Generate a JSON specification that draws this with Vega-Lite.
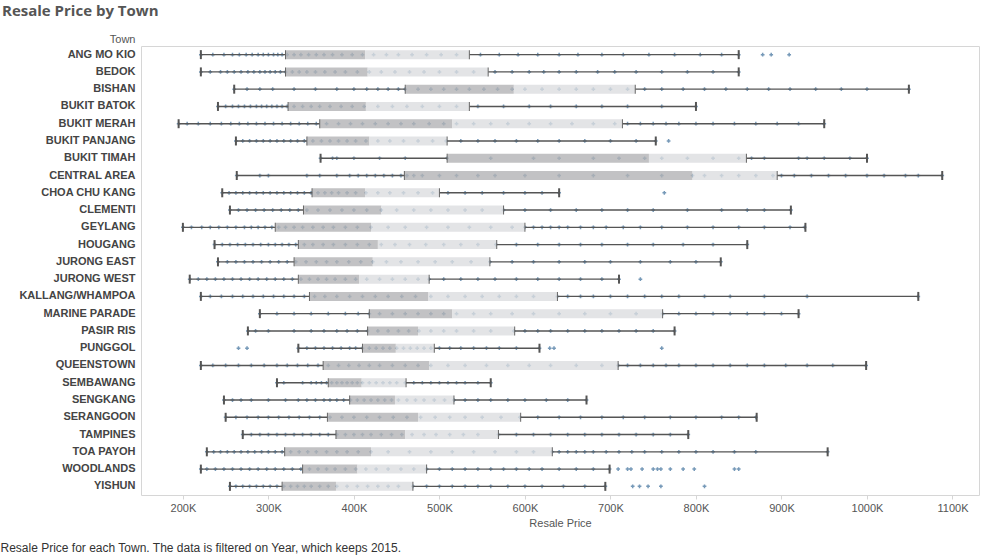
{
"$schema": "https://vega.github.io/schema/vega-lite/v6.json",
"width": 838, "height": 449,
"autosize": {"type": "none"},
"padding": {"left": 141, "top": 46, "right": 4, "bottom": 61},
"background": "white",
"config": {"view": {"stroke": "#d6d6d6"}},
"title": {"text": "Resale Price by Town", "anchor": "start", "frame": "group", "dx": -139, "dy": 0, "offset": 14, "font": "Open Sans", "fontSize": 15, "fontWeight": "bold", "color": "#555555"},
"datasets": {
"stats": [
{"town":"ANG MO KIO","low":221,"q1":320,"median":413,"q3":535,"high":850},
{"town":"BEDOK","low":221,"q1":320,"median":416,"q3":557,"high":850},
{"town":"BISHAN","low":260,"q1":460,"median":587,"q3":729,"high":1049},
{"town":"BUKIT BATOK","low":241,"q1":323,"median":414,"q3":535,"high":800},
{"town":"BUKIT MERAH","low":195,"q1":360,"median":515,"q3":714,"high":950},
{"town":"BUKIT PANJANG","low":262,"q1":345,"median":418,"q3":509,"high":753},
{"town":"BUKIT TIMAH","low":361,"q1":509,"median":745,"q3":859,"high":1000},
{"town":"CENTRAL AREA","low":263,"q1":459,"median":796,"q3":895,"high":1088},
{"town":"CHOA CHU KANG","low":246,"q1":351,"median":413,"q3":500,"high":640},
{"town":"CLEMENTI","low":255,"q1":341,"median":432,"q3":575,"high":911},
{"town":"GEYLANG","low":200,"q1":308,"median":420,"q3":600,"high":928},
{"town":"HOUGANG","low":237,"q1":335,"median":428,"q3":567,"high":860},
{"town":"JURONG EAST","low":241,"q1":330,"median":422,"q3":559,"high":829},
{"town":"JURONG WEST","low":208,"q1":335,"median":406,"q3":488,"high":710},
{"town":"KALLANG/WHAMPOA","low":221,"q1":348,"median":487,"q3":638,"high":1060},
{"town":"MARINE PARADE","low":290,"q1":418,"median":515,"q3":761,"high":920},
{"town":"PASIR RIS","low":276,"q1":416,"median":475,"q3":588,"high":775},
{"town":"PUNGGOL","low":335,"q1":410,"median":449,"q3":494,"high":617},
{"town":"QUEENSTOWN","low":221,"q1":364,"median":488,"q3":709,"high":999},
{"town":"SEMBAWANG","low":310,"q1":370,"median":409,"q3":461,"high":560},
{"town":"SENGKANG","low":248,"q1":395,"median":448,"q3":517,"high":672},
{"town":"SERANGOON","low":250,"q1":369,"median":475,"q3":595,"high":871},
{"town":"TAMPINES","low":270,"q1":379,"median":460,"q3":569,"high":791},
{"town":"TOA PAYOH","low":228,"q1":319,"median":420,"q3":632,"high":954},
{"town":"WOODLANDS","low":221,"q1":340,"median":404,"q3":485,"high":699},
{"town":"YISHUN","low":255,"q1":316,"median":379,"q3":469,"high":694}
],
"dots": [
{"town":"ANG MO KIO","price":221},{"town":"ANG MO KIO","price":235},{"town":"ANG MO KIO","price":248},{"town":"ANG MO KIO","price":258},{"town":"ANG MO KIO","price":266},{"town":"ANG MO KIO","price":274},{"town":"ANG MO KIO","price":281},{"town":"ANG MO KIO","price":288},{"town":"ANG MO KIO","price":294},{"town":"ANG MO KIO","price":300},{"town":"ANG MO KIO","price":306},{"town":"ANG MO KIO","price":311},{"town":"ANG MO KIO","price":316},{"town":"ANG MO KIO","price":322},{"town":"ANG MO KIO","price":330},{"town":"ANG MO KIO","price":338},{"town":"ANG MO KIO","price":347},{"town":"ANG MO KIO","price":356},{"town":"ANG MO KIO","price":365},{"town":"ANG MO KIO","price":375},{"town":"ANG MO KIO","price":386},{"town":"ANG MO KIO","price":398},{"town":"ANG MO KIO","price":410},{"town":"ANG MO KIO","price":423},{"town":"ANG MO KIO","price":438},{"town":"ANG MO KIO","price":452},{"town":"ANG MO KIO","price":468},{"town":"ANG MO KIO","price":485},{"town":"ANG MO KIO","price":502},{"town":"ANG MO KIO","price":520},{"town":"ANG MO KIO","price":548},{"town":"ANG MO KIO","price":570},{"town":"ANG MO KIO","price":592},{"town":"ANG MO KIO","price":615},{"town":"ANG MO KIO","price":640},{"town":"ANG MO KIO","price":662},{"town":"ANG MO KIO","price":690},{"town":"ANG MO KIO","price":715},{"town":"ANG MO KIO","price":745},{"town":"ANG MO KIO","price":775},{"town":"ANG MO KIO","price":805},{"town":"ANG MO KIO","price":830},{"town":"ANG MO KIO","price":850},{"town":"ANG MO KIO","price":878},{"town":"ANG MO KIO","price":888},{"town":"ANG MO KIO","price":909},
{"town":"BEDOK","price":221},{"town":"BEDOK","price":232},{"town":"BEDOK","price":244},{"town":"BEDOK","price":252},{"town":"BEDOK","price":260},{"town":"BEDOK","price":268},{"town":"BEDOK","price":276},{"town":"BEDOK","price":283},{"town":"BEDOK","price":290},{"town":"BEDOK","price":296},{"town":"BEDOK","price":302},{"town":"BEDOK","price":308},{"town":"BEDOK","price":314},{"town":"BEDOK","price":320},{"town":"BEDOK","price":328},{"town":"BEDOK","price":336},{"town":"BEDOK","price":345},{"town":"BEDOK","price":355},{"town":"BEDOK","price":366},{"town":"BEDOK","price":378},{"town":"BEDOK","price":390},{"town":"BEDOK","price":404},{"town":"BEDOK","price":418},{"town":"BEDOK","price":432},{"town":"BEDOK","price":448},{"town":"BEDOK","price":465},{"town":"BEDOK","price":482},{"town":"BEDOK","price":500},{"town":"BEDOK","price":520},{"town":"BEDOK","price":540},{"town":"BEDOK","price":565},{"town":"BEDOK","price":585},{"town":"BEDOK","price":605},{"town":"BEDOK","price":622},{"town":"BEDOK","price":640},{"town":"BEDOK","price":660},{"town":"BEDOK","price":685},{"town":"BEDOK","price":705},{"town":"BEDOK","price":730},{"town":"BEDOK","price":760},{"town":"BEDOK","price":790},{"town":"BEDOK","price":820},{"town":"BEDOK","price":850},
{"town":"BISHAN","price":260},{"town":"BISHAN","price":275},{"town":"BISHAN","price":290},{"town":"BISHAN","price":305},{"town":"BISHAN","price":330},{"town":"BISHAN","price":355},{"town":"BISHAN","price":380},{"town":"BISHAN","price":400},{"town":"BISHAN","price":415},{"town":"BISHAN","price":428},{"town":"BISHAN","price":440},{"town":"BISHAN","price":452},{"town":"BISHAN","price":460},{"town":"BISHAN","price":475},{"town":"BISHAN","price":490},{"town":"BISHAN","price":505},{"town":"BISHAN","price":520},{"town":"BISHAN","price":535},{"town":"BISHAN","price":552},{"town":"BISHAN","price":568},{"town":"BISHAN","price":585},{"town":"BISHAN","price":600},{"town":"BISHAN","price":620},{"town":"BISHAN","price":640},{"town":"BISHAN","price":660},{"town":"BISHAN","price":680},{"town":"BISHAN","price":700},{"town":"BISHAN","price":720},{"town":"BISHAN","price":740},{"town":"BISHAN","price":760},{"town":"BISHAN","price":785},{"town":"BISHAN","price":810},{"town":"BISHAN","price":835},{"town":"BISHAN","price":860},{"town":"BISHAN","price":885},{"town":"BISHAN","price":910},{"town":"BISHAN","price":940},{"town":"BISHAN","price":970},{"town":"BISHAN","price":1000},{"town":"BISHAN","price":1049},
{"town":"BUKIT BATOK","price":241},{"town":"BUKIT BATOK","price":250},{"town":"BUKIT BATOK","price":258},{"town":"BUKIT BATOK","price":265},{"town":"BUKIT BATOK","price":272},{"town":"BUKIT BATOK","price":279},{"town":"BUKIT BATOK","price":286},{"town":"BUKIT BATOK","price":292},{"town":"BUKIT BATOK","price":298},{"town":"BUKIT BATOK","price":304},{"town":"BUKIT BATOK","price":310},{"town":"BUKIT BATOK","price":316},{"town":"BUKIT BATOK","price":322},{"town":"BUKIT BATOK","price":330},{"town":"BUKIT BATOK","price":340},{"town":"BUKIT BATOK","price":350},{"town":"BUKIT BATOK","price":360},{"town":"BUKIT BATOK","price":372},{"town":"BUKIT BATOK","price":385},{"town":"BUKIT BATOK","price":398},{"town":"BUKIT BATOK","price":412},{"town":"BUKIT BATOK","price":428},{"town":"BUKIT BATOK","price":445},{"town":"BUKIT BATOK","price":462},{"town":"BUKIT BATOK","price":480},{"town":"BUKIT BATOK","price":500},{"town":"BUKIT BATOK","price":520},{"town":"BUKIT BATOK","price":545},{"town":"BUKIT BATOK","price":575},{"town":"BUKIT BATOK","price":605},{"town":"BUKIT BATOK","price":630},{"town":"BUKIT BATOK","price":660},{"town":"BUKIT BATOK","price":690},{"town":"BUKIT BATOK","price":720},{"town":"BUKIT BATOK","price":760},{"town":"BUKIT BATOK","price":800},
{"town":"BUKIT MERAH","price":195},{"town":"BUKIT MERAH","price":205},{"town":"BUKIT MERAH","price":218},{"town":"BUKIT MERAH","price":232},{"town":"BUKIT MERAH","price":245},{"town":"BUKIT MERAH","price":256},{"town":"BUKIT MERAH","price":266},{"town":"BUKIT MERAH","price":276},{"town":"BUKIT MERAH","price":286},{"town":"BUKIT MERAH","price":296},{"town":"BUKIT MERAH","price":306},{"town":"BUKIT MERAH","price":316},{"town":"BUKIT MERAH","price":326},{"town":"BUKIT MERAH","price":336},{"town":"BUKIT MERAH","price":346},{"town":"BUKIT MERAH","price":356},{"town":"BUKIT MERAH","price":368},{"town":"BUKIT MERAH","price":382},{"town":"BUKIT MERAH","price":396},{"town":"BUKIT MERAH","price":410},{"town":"BUKIT MERAH","price":425},{"town":"BUKIT MERAH","price":440},{"town":"BUKIT MERAH","price":455},{"town":"BUKIT MERAH","price":470},{"town":"BUKIT MERAH","price":488},{"town":"BUKIT MERAH","price":505},{"town":"BUKIT MERAH","price":520},{"town":"BUKIT MERAH","price":540},{"town":"BUKIT MERAH","price":560},{"town":"BUKIT MERAH","price":580},{"town":"BUKIT MERAH","price":605},{"town":"BUKIT MERAH","price":630},{"town":"BUKIT MERAH","price":655},{"town":"BUKIT MERAH","price":680},{"town":"BUKIT MERAH","price":705},{"town":"BUKIT MERAH","price":720},{"town":"BUKIT MERAH","price":735},{"town":"BUKIT MERAH","price":750},{"town":"BUKIT MERAH","price":765},{"town":"BUKIT MERAH","price":780},{"town":"BUKIT MERAH","price":800},{"town":"BUKIT MERAH","price":820},{"town":"BUKIT MERAH","price":845},{"town":"BUKIT MERAH","price":870},{"town":"BUKIT MERAH","price":895},{"town":"BUKIT MERAH","price":920},{"town":"BUKIT MERAH","price":950},
{"town":"BUKIT PANJANG","price":262},{"town":"BUKIT PANJANG","price":270},{"town":"BUKIT PANJANG","price":278},{"town":"BUKIT PANJANG","price":286},{"town":"BUKIT PANJANG","price":294},{"town":"BUKIT PANJANG","price":302},{"town":"BUKIT PANJANG","price":310},{"town":"BUKIT PANJANG","price":318},{"town":"BUKIT PANJANG","price":326},{"town":"BUKIT PANJANG","price":334},{"town":"BUKIT PANJANG","price":342},{"town":"BUKIT PANJANG","price":352},{"town":"BUKIT PANJANG","price":362},{"town":"BUKIT PANJANG","price":372},{"town":"BUKIT PANJANG","price":382},{"town":"BUKIT PANJANG","price":392},{"town":"BUKIT PANJANG","price":402},{"town":"BUKIT PANJANG","price":414},{"town":"BUKIT PANJANG","price":428},{"town":"BUKIT PANJANG","price":442},{"town":"BUKIT PANJANG","price":458},{"town":"BUKIT PANJANG","price":475},{"town":"BUKIT PANJANG","price":492},{"town":"BUKIT PANJANG","price":508},{"town":"BUKIT PANJANG","price":525},{"town":"BUKIT PANJANG","price":545},{"town":"BUKIT PANJANG","price":565},{"town":"BUKIT PANJANG","price":590},{"town":"BUKIT PANJANG","price":615},{"town":"BUKIT PANJANG","price":640},{"town":"BUKIT PANJANG","price":670},{"town":"BUKIT PANJANG","price":700},{"town":"BUKIT PANJANG","price":730},{"town":"BUKIT PANJANG","price":753},{"town":"BUKIT PANJANG","price":768},
{"town":"BUKIT TIMAH","price":361},{"town":"BUKIT TIMAH","price":375},{"town":"BUKIT TIMAH","price":380},{"town":"BUKIT TIMAH","price":400},{"town":"BUKIT TIMAH","price":430},{"town":"BUKIT TIMAH","price":460},{"town":"BUKIT TIMAH","price":509},{"town":"BUKIT TIMAH","price":560},{"town":"BUKIT TIMAH","price":610},{"town":"BUKIT TIMAH","price":640},{"town":"BUKIT TIMAH","price":680},{"town":"BUKIT TIMAH","price":710},{"town":"BUKIT TIMAH","price":740},{"town":"BUKIT TIMAH","price":760},{"town":"BUKIT TIMAH","price":790},{"town":"BUKIT TIMAH","price":820},{"town":"BUKIT TIMAH","price":850},{"town":"BUKIT TIMAH","price":865},{"town":"BUKIT TIMAH","price":880},{"town":"BUKIT TIMAH","price":920},{"town":"BUKIT TIMAH","price":930},{"town":"BUKIT TIMAH","price":950},{"town":"BUKIT TIMAH","price":980},{"town":"BUKIT TIMAH","price":1000},
{"town":"CENTRAL AREA","price":263},{"town":"CENTRAL AREA","price":290},{"town":"CENTRAL AREA","price":300},{"town":"CENTRAL AREA","price":345},{"town":"CENTRAL AREA","price":360},{"town":"CENTRAL AREA","price":380},{"town":"CENTRAL AREA","price":395},{"town":"CENTRAL AREA","price":405},{"town":"CENTRAL AREA","price":415},{"town":"CENTRAL AREA","price":425},{"town":"CENTRAL AREA","price":435},{"town":"CENTRAL AREA","price":445},{"town":"CENTRAL AREA","price":455},{"town":"CENTRAL AREA","price":462},{"town":"CENTRAL AREA","price":470},{"town":"CENTRAL AREA","price":480},{"town":"CENTRAL AREA","price":500},{"town":"CENTRAL AREA","price":520},{"town":"CENTRAL AREA","price":545},{"town":"CENTRAL AREA","price":565},{"town":"CENTRAL AREA","price":600},{"town":"CENTRAL AREA","price":640},{"town":"CENTRAL AREA","price":680},{"town":"CENTRAL AREA","price":720},{"town":"CENTRAL AREA","price":760},{"town":"CENTRAL AREA","price":796},{"town":"CENTRAL AREA","price":810},{"town":"CENTRAL AREA","price":830},{"town":"CENTRAL AREA","price":850},{"town":"CENTRAL AREA","price":870},{"town":"CENTRAL AREA","price":890},{"town":"CENTRAL AREA","price":900},{"town":"CENTRAL AREA","price":915},{"town":"CENTRAL AREA","price":935},{"town":"CENTRAL AREA","price":955},{"town":"CENTRAL AREA","price":975},{"town":"CENTRAL AREA","price":1000},{"town":"CENTRAL AREA","price":1020},{"town":"CENTRAL AREA","price":1045},{"town":"CENTRAL AREA","price":1060},{"town":"CENTRAL AREA","price":1088},
{"town":"CHOA CHU KANG","price":246},{"town":"CHOA CHU KANG","price":254},{"town":"CHOA CHU KANG","price":262},{"town":"CHOA CHU KANG","price":270},{"town":"CHOA CHU KANG","price":278},{"town":"CHOA CHU KANG","price":286},{"town":"CHOA CHU KANG","price":294},{"town":"CHOA CHU KANG","price":302},{"town":"CHOA CHU KANG","price":310},{"town":"CHOA CHU KANG","price":318},{"town":"CHOA CHU KANG","price":326},{"town":"CHOA CHU KANG","price":334},{"town":"CHOA CHU KANG","price":342},{"town":"CHOA CHU KANG","price":350},{"town":"CHOA CHU KANG","price":358},{"town":"CHOA CHU KANG","price":366},{"town":"CHOA CHU KANG","price":374},{"town":"CHOA CHU KANG","price":382},{"town":"CHOA CHU KANG","price":392},{"town":"CHOA CHU KANG","price":402},{"town":"CHOA CHU KANG","price":414},{"town":"CHOA CHU KANG","price":428},{"town":"CHOA CHU KANG","price":442},{"town":"CHOA CHU KANG","price":458},{"town":"CHOA CHU KANG","price":475},{"town":"CHOA CHU KANG","price":492},{"town":"CHOA CHU KANG","price":510},{"town":"CHOA CHU KANG","price":530},{"town":"CHOA CHU KANG","price":550},{"town":"CHOA CHU KANG","price":575},{"town":"CHOA CHU KANG","price":600},{"town":"CHOA CHU KANG","price":620},{"town":"CHOA CHU KANG","price":640},{"town":"CHOA CHU KANG","price":763},
{"town":"CLEMENTI","price":255},{"town":"CLEMENTI","price":265},{"town":"CLEMENTI","price":275},{"town":"CLEMENTI","price":285},{"town":"CLEMENTI","price":295},{"town":"CLEMENTI","price":305},{"town":"CLEMENTI","price":315},{"town":"CLEMENTI","price":325},{"town":"CLEMENTI","price":335},{"town":"CLEMENTI","price":345},{"town":"CLEMENTI","price":358},{"town":"CLEMENTI","price":372},{"town":"CLEMENTI","price":386},{"town":"CLEMENTI","price":400},{"town":"CLEMENTI","price":415},{"town":"CLEMENTI","price":432},{"town":"CLEMENTI","price":450},{"town":"CLEMENTI","price":470},{"town":"CLEMENTI","price":490},{"town":"CLEMENTI","price":510},{"town":"CLEMENTI","price":530},{"town":"CLEMENTI","price":550},{"town":"CLEMENTI","price":575},{"town":"CLEMENTI","price":600},{"town":"CLEMENTI","price":630},{"town":"CLEMENTI","price":660},{"town":"CLEMENTI","price":690},{"town":"CLEMENTI","price":720},{"town":"CLEMENTI","price":750},{"town":"CLEMENTI","price":790},{"town":"CLEMENTI","price":830},{"town":"CLEMENTI","price":860},{"town":"CLEMENTI","price":880},{"town":"CLEMENTI","price":911},
{"town":"GEYLANG","price":200},{"town":"GEYLANG","price":210},{"town":"GEYLANG","price":222},{"town":"GEYLANG","price":232},{"town":"GEYLANG","price":242},{"town":"GEYLANG","price":252},{"town":"GEYLANG","price":262},{"town":"GEYLANG","price":272},{"town":"GEYLANG","price":280},{"town":"GEYLANG","price":288},{"town":"GEYLANG","price":296},{"town":"GEYLANG","price":304},{"town":"GEYLANG","price":312},{"town":"GEYLANG","price":320},{"town":"GEYLANG","price":330},{"town":"GEYLANG","price":340},{"town":"GEYLANG","price":352},{"town":"GEYLANG","price":364},{"town":"GEYLANG","price":376},{"town":"GEYLANG","price":390},{"town":"GEYLANG","price":404},{"town":"GEYLANG","price":420},{"town":"GEYLANG","price":440},{"town":"GEYLANG","price":460},{"town":"GEYLANG","price":485},{"town":"GEYLANG","price":510},{"town":"GEYLANG","price":535},{"town":"GEYLANG","price":560},{"town":"GEYLANG","price":585},{"town":"GEYLANG","price":600},{"town":"GEYLANG","price":610},{"town":"GEYLANG","price":620},{"town":"GEYLANG","price":630},{"town":"GEYLANG","price":640},{"town":"GEYLANG","price":650},{"town":"GEYLANG","price":665},{"town":"GEYLANG","price":680},{"town":"GEYLANG","price":695},{"town":"GEYLANG","price":715},{"town":"GEYLANG","price":735},{"town":"GEYLANG","price":760},{"town":"GEYLANG","price":790},{"town":"GEYLANG","price":820},{"town":"GEYLANG","price":850},{"town":"GEYLANG","price":880},{"town":"GEYLANG","price":910},{"town":"GEYLANG","price":927},
{"town":"HOUGANG","price":237},{"town":"HOUGANG","price":246},{"town":"HOUGANG","price":255},{"town":"HOUGANG","price":264},{"town":"HOUGANG","price":273},{"town":"HOUGANG","price":282},{"town":"HOUGANG","price":291},{"town":"HOUGANG","price":300},{"town":"HOUGANG","price":308},{"town":"HOUGANG","price":316},{"town":"HOUGANG","price":324},{"town":"HOUGANG","price":332},{"town":"HOUGANG","price":342},{"town":"HOUGANG","price":352},{"town":"HOUGANG","price":364},{"town":"HOUGANG","price":376},{"town":"HOUGANG","price":390},{"town":"HOUGANG","price":404},{"town":"HOUGANG","price":418},{"town":"HOUGANG","price":432},{"town":"HOUGANG","price":448},{"town":"HOUGANG","price":465},{"town":"HOUGANG","price":484},{"town":"HOUGANG","price":505},{"town":"HOUGANG","price":525},{"town":"HOUGANG","price":545},{"town":"HOUGANG","price":566},{"town":"HOUGANG","price":590},{"town":"HOUGANG","price":615},{"town":"HOUGANG","price":640},{"town":"HOUGANG","price":665},{"town":"HOUGANG","price":690},{"town":"HOUGANG","price":720},{"town":"HOUGANG","price":750},{"town":"HOUGANG","price":785},{"town":"HOUGANG","price":820},{"town":"HOUGANG","price":860},
{"town":"JURONG EAST","price":241},{"town":"JURONG EAST","price":252},{"town":"JURONG EAST","price":262},{"town":"JURONG EAST","price":272},{"town":"JURONG EAST","price":282},{"town":"JURONG EAST","price":292},{"town":"JURONG EAST","price":302},{"town":"JURONG EAST","price":312},{"town":"JURONG EAST","price":322},{"town":"JURONG EAST","price":332},{"town":"JURONG EAST","price":344},{"town":"JURONG EAST","price":356},{"town":"JURONG EAST","price":368},{"town":"JURONG EAST","price":380},{"town":"JURONG EAST","price":394},{"town":"JURONG EAST","price":408},{"town":"JURONG EAST","price":422},{"town":"JURONG EAST","price":438},{"town":"JURONG EAST","price":455},{"town":"JURONG EAST","price":475},{"town":"JURONG EAST","price":495},{"town":"JURONG EAST","price":515},{"town":"JURONG EAST","price":537},{"town":"JURONG EAST","price":559},{"town":"JURONG EAST","price":585},{"town":"JURONG EAST","price":610},{"town":"JURONG EAST","price":640},{"town":"JURONG EAST","price":670},{"town":"JURONG EAST","price":700},{"town":"JURONG EAST","price":735},{"town":"JURONG EAST","price":770},{"town":"JURONG EAST","price":800},{"town":"JURONG EAST","price":829},
{"town":"JURONG WEST","price":208},{"town":"JURONG WEST","price":218},{"town":"JURONG WEST","price":228},{"town":"JURONG WEST","price":238},{"town":"JURONG WEST","price":248},{"town":"JURONG WEST","price":258},{"town":"JURONG WEST","price":268},{"town":"JURONG WEST","price":278},{"town":"JURONG WEST","price":288},{"town":"JURONG WEST","price":298},{"town":"JURONG WEST","price":308},{"town":"JURONG WEST","price":318},{"town":"JURONG WEST","price":328},{"town":"JURONG WEST","price":338},{"town":"JURONG WEST","price":348},{"town":"JURONG WEST","price":358},{"town":"JURONG WEST","price":368},{"town":"JURONG WEST","price":378},{"town":"JURONG WEST","price":390},{"town":"JURONG WEST","price":402},{"town":"JURONG WEST","price":415},{"town":"JURONG WEST","price":430},{"town":"JURONG WEST","price":445},{"town":"JURONG WEST","price":460},{"town":"JURONG WEST","price":475},{"town":"JURONG WEST","price":488},{"town":"JURONG WEST","price":505},{"town":"JURONG WEST","price":525},{"town":"JURONG WEST","price":545},{"town":"JURONG WEST","price":565},{"town":"JURONG WEST","price":590},{"town":"JURONG WEST","price":615},{"town":"JURONG WEST","price":640},{"town":"JURONG WEST","price":665},{"town":"JURONG WEST","price":690},{"town":"JURONG WEST","price":710},{"town":"JURONG WEST","price":735},
{"town":"KALLANG/WHAMPOA","price":221},{"town":"KALLANG/WHAMPOA","price":232},{"town":"KALLANG/WHAMPOA","price":245},{"town":"KALLANG/WHAMPOA","price":258},{"town":"KALLANG/WHAMPOA","price":270},{"town":"KALLANG/WHAMPOA","price":282},{"town":"KALLANG/WHAMPOA","price":294},{"town":"KALLANG/WHAMPOA","price":306},{"town":"KALLANG/WHAMPOA","price":318},{"town":"KALLANG/WHAMPOA","price":330},{"town":"KALLANG/WHAMPOA","price":342},{"town":"KALLANG/WHAMPOA","price":354},{"town":"KALLANG/WHAMPOA","price":366},{"town":"KALLANG/WHAMPOA","price":380},{"town":"KALLANG/WHAMPOA","price":395},{"town":"KALLANG/WHAMPOA","price":410},{"town":"KALLANG/WHAMPOA","price":425},{"town":"KALLANG/WHAMPOA","price":440},{"town":"KALLANG/WHAMPOA","price":456},{"town":"KALLANG/WHAMPOA","price":472},{"town":"KALLANG/WHAMPOA","price":490},{"town":"KALLANG/WHAMPOA","price":510},{"town":"KALLANG/WHAMPOA","price":530},{"town":"KALLANG/WHAMPOA","price":550},{"town":"KALLANG/WHAMPOA","price":570},{"town":"KALLANG/WHAMPOA","price":590},{"town":"KALLANG/WHAMPOA","price":610},{"town":"KALLANG/WHAMPOA","price":638},{"town":"KALLANG/WHAMPOA","price":650},{"town":"KALLANG/WHAMPOA","price":665},{"town":"KALLANG/WHAMPOA","price":680},{"town":"KALLANG/WHAMPOA","price":700},{"town":"KALLANG/WHAMPOA","price":720},{"town":"KALLANG/WHAMPOA","price":740},{"town":"KALLANG/WHAMPOA","price":760},{"town":"KALLANG/WHAMPOA","price":780},{"town":"KALLANG/WHAMPOA","price":810},{"town":"KALLANG/WHAMPOA","price":840},{"town":"KALLANG/WHAMPOA","price":880},{"town":"KALLANG/WHAMPOA","price":930},{"town":"KALLANG/WHAMPOA","price":1060},
{"town":"MARINE PARADE","price":290},{"town":"MARINE PARADE","price":310},{"town":"MARINE PARADE","price":330},{"town":"MARINE PARADE","price":350},{"town":"MARINE PARADE","price":370},{"town":"MARINE PARADE","price":390},{"town":"MARINE PARADE","price":405},{"town":"MARINE PARADE","price":418},{"town":"MARINE PARADE","price":430},{"town":"MARINE PARADE","price":445},{"town":"MARINE PARADE","price":460},{"town":"MARINE PARADE","price":475},{"town":"MARINE PARADE","price":490},{"town":"MARINE PARADE","price":505},{"town":"MARINE PARADE","price":520},{"town":"MARINE PARADE","price":540},{"town":"MARINE PARADE","price":560},{"town":"MARINE PARADE","price":585},{"town":"MARINE PARADE","price":610},{"town":"MARINE PARADE","price":640},{"town":"MARINE PARADE","price":670},{"town":"MARINE PARADE","price":700},{"town":"MARINE PARADE","price":730},{"town":"MARINE PARADE","price":761},{"town":"MARINE PARADE","price":780},{"town":"MARINE PARADE","price":800},{"town":"MARINE PARADE","price":820},{"town":"MARINE PARADE","price":840},{"town":"MARINE PARADE","price":860},{"town":"MARINE PARADE","price":880},{"town":"MARINE PARADE","price":900},{"town":"MARINE PARADE","price":920},
{"town":"PASIR RIS","price":276},{"town":"PASIR RIS","price":285},{"town":"PASIR RIS","price":300},{"town":"PASIR RIS","price":330},{"town":"PASIR RIS","price":350},{"town":"PASIR RIS","price":365},{"town":"PASIR RIS","price":380},{"town":"PASIR RIS","price":392},{"town":"PASIR RIS","price":404},{"town":"PASIR RIS","price":416},{"town":"PASIR RIS","price":428},{"town":"PASIR RIS","price":440},{"town":"PASIR RIS","price":452},{"town":"PASIR RIS","price":464},{"town":"PASIR RIS","price":476},{"town":"PASIR RIS","price":490},{"town":"PASIR RIS","price":505},{"town":"PASIR RIS","price":520},{"town":"PASIR RIS","price":540},{"town":"PASIR RIS","price":560},{"town":"PASIR RIS","price":587},{"town":"PASIR RIS","price":600},{"town":"PASIR RIS","price":615},{"town":"PASIR RIS","price":630},{"town":"PASIR RIS","price":650},{"town":"PASIR RIS","price":670},{"town":"PASIR RIS","price":690},{"town":"PASIR RIS","price":710},{"town":"PASIR RIS","price":730},{"town":"PASIR RIS","price":750},{"town":"PASIR RIS","price":775},
{"town":"PUNGGOL","price":265},{"town":"PUNGGOL","price":275},{"town":"PUNGGOL","price":335},{"town":"PUNGGOL","price":345},{"town":"PUNGGOL","price":355},{"town":"PUNGGOL","price":365},{"town":"PUNGGOL","price":375},{"town":"PUNGGOL","price":385},{"town":"PUNGGOL","price":395},{"town":"PUNGGOL","price":402},{"town":"PUNGGOL","price":410},{"town":"PUNGGOL","price":418},{"town":"PUNGGOL","price":426},{"town":"PUNGGOL","price":434},{"town":"PUNGGOL","price":442},{"town":"PUNGGOL","price":450},{"town":"PUNGGOL","price":458},{"town":"PUNGGOL","price":466},{"town":"PUNGGOL","price":474},{"town":"PUNGGOL","price":482},{"town":"PUNGGOL","price":490},{"town":"PUNGGOL","price":500},{"town":"PUNGGOL","price":512},{"town":"PUNGGOL","price":525},{"town":"PUNGGOL","price":540},{"town":"PUNGGOL","price":555},{"town":"PUNGGOL","price":570},{"town":"PUNGGOL","price":590},{"town":"PUNGGOL","price":617},{"town":"PUNGGOL","price":629},{"town":"PUNGGOL","price":634},{"town":"PUNGGOL","price":760},
{"town":"QUEENSTOWN","price":221},{"town":"QUEENSTOWN","price":235},{"town":"QUEENSTOWN","price":250},{"town":"QUEENSTOWN","price":265},{"town":"QUEENSTOWN","price":280},{"town":"QUEENSTOWN","price":295},{"town":"QUEENSTOWN","price":310},{"town":"QUEENSTOWN","price":322},{"town":"QUEENSTOWN","price":334},{"town":"QUEENSTOWN","price":346},{"town":"QUEENSTOWN","price":358},{"town":"QUEENSTOWN","price":370},{"town":"QUEENSTOWN","price":382},{"town":"QUEENSTOWN","price":394},{"town":"QUEENSTOWN","price":406},{"town":"QUEENSTOWN","price":418},{"town":"QUEENSTOWN","price":430},{"town":"QUEENSTOWN","price":445},{"town":"QUEENSTOWN","price":460},{"town":"QUEENSTOWN","price":475},{"town":"QUEENSTOWN","price":490},{"town":"QUEENSTOWN","price":510},{"town":"QUEENSTOWN","price":530},{"town":"QUEENSTOWN","price":555},{"town":"QUEENSTOWN","price":580},{"town":"QUEENSTOWN","price":605},{"town":"QUEENSTOWN","price":630},{"town":"QUEENSTOWN","price":660},{"town":"QUEENSTOWN","price":690},{"town":"QUEENSTOWN","price":709},{"town":"QUEENSTOWN","price":720},{"town":"QUEENSTOWN","price":735},{"town":"QUEENSTOWN","price":750},{"town":"QUEENSTOWN","price":765},{"town":"QUEENSTOWN","price":780},{"town":"QUEENSTOWN","price":800},{"town":"QUEENSTOWN","price":820},{"town":"QUEENSTOWN","price":840},{"town":"QUEENSTOWN","price":860},{"town":"QUEENSTOWN","price":880},{"town":"QUEENSTOWN","price":905},{"town":"QUEENSTOWN","price":930},{"town":"QUEENSTOWN","price":960},{"town":"QUEENSTOWN","price":999},
{"town":"SEMBAWANG","price":310},{"town":"SEMBAWANG","price":318},{"town":"SEMBAWANG","price":340},{"town":"SEMBAWANG","price":350},{"town":"SEMBAWANG","price":356},{"town":"SEMBAWANG","price":362},{"town":"SEMBAWANG","price":368},{"town":"SEMBAWANG","price":374},{"town":"SEMBAWANG","price":380},{"town":"SEMBAWANG","price":386},{"town":"SEMBAWANG","price":392},{"town":"SEMBAWANG","price":398},{"town":"SEMBAWANG","price":404},{"town":"SEMBAWANG","price":410},{"town":"SEMBAWANG","price":418},{"town":"SEMBAWANG","price":426},{"town":"SEMBAWANG","price":434},{"town":"SEMBAWANG","price":442},{"town":"SEMBAWANG","price":450},{"town":"SEMBAWANG","price":460},{"town":"SEMBAWANG","price":470},{"town":"SEMBAWANG","price":480},{"town":"SEMBAWANG","price":490},{"town":"SEMBAWANG","price":500},{"town":"SEMBAWANG","price":510},{"town":"SEMBAWANG","price":520},{"town":"SEMBAWANG","price":530},{"town":"SEMBAWANG","price":545},{"town":"SEMBAWANG","price":560},
{"town":"SENGKANG","price":248},{"town":"SENGKANG","price":258},{"town":"SENGKANG","price":268},{"town":"SENGKANG","price":280},{"town":"SENGKANG","price":300},{"town":"SENGKANG","price":320},{"town":"SENGKANG","price":335},{"town":"SENGKANG","price":345},{"town":"SENGKANG","price":355},{"town":"SENGKANG","price":365},{"town":"SENGKANG","price":372},{"town":"SENGKANG","price":380},{"town":"SENGKANG","price":388},{"town":"SENGKANG","price":396},{"town":"SENGKANG","price":404},{"town":"SENGKANG","price":412},{"town":"SENGKANG","price":420},{"town":"SENGKANG","price":428},{"town":"SENGKANG","price":436},{"town":"SENGKANG","price":444},{"town":"SENGKANG","price":452},{"town":"SENGKANG","price":462},{"town":"SENGKANG","price":472},{"town":"SENGKANG","price":482},{"town":"SENGKANG","price":494},{"town":"SENGKANG","price":506},{"town":"SENGKANG","price":517},{"town":"SENGKANG","price":530},{"town":"SENGKANG","price":545},{"town":"SENGKANG","price":560},{"town":"SENGKANG","price":580},{"town":"SENGKANG","price":600},{"town":"SENGKANG","price":625},{"town":"SENGKANG","price":650},{"town":"SENGKANG","price":672},
{"town":"SERANGOON","price":250},{"town":"SERANGOON","price":262},{"town":"SERANGOON","price":275},{"town":"SERANGOON","price":288},{"town":"SERANGOON","price":300},{"town":"SERANGOON","price":312},{"town":"SERANGOON","price":324},{"town":"SERANGOON","price":336},{"town":"SERANGOON","price":348},{"town":"SERANGOON","price":360},{"town":"SERANGOON","price":372},{"town":"SERANGOON","price":386},{"town":"SERANGOON","price":400},{"town":"SERANGOON","price":415},{"town":"SERANGOON","price":430},{"town":"SERANGOON","price":446},{"town":"SERANGOON","price":462},{"town":"SERANGOON","price":478},{"town":"SERANGOON","price":495},{"town":"SERANGOON","price":512},{"town":"SERANGOON","price":530},{"town":"SERANGOON","price":550},{"town":"SERANGOON","price":572},{"town":"SERANGOON","price":594},{"town":"SERANGOON","price":615},{"town":"SERANGOON","price":640},{"town":"SERANGOON","price":665},{"town":"SERANGOON","price":690},{"town":"SERANGOON","price":715},{"town":"SERANGOON","price":740},{"town":"SERANGOON","price":770},{"town":"SERANGOON","price":800},{"town":"SERANGOON","price":830},{"town":"SERANGOON","price":850},{"town":"SERANGOON","price":870},
{"town":"TAMPINES","price":270},{"town":"TAMPINES","price":280},{"town":"TAMPINES","price":290},{"town":"TAMPINES","price":300},{"town":"TAMPINES","price":310},{"town":"TAMPINES","price":320},{"town":"TAMPINES","price":330},{"town":"TAMPINES","price":340},{"town":"TAMPINES","price":350},{"town":"TAMPINES","price":360},{"town":"TAMPINES","price":370},{"town":"TAMPINES","price":380},{"town":"TAMPINES","price":390},{"town":"TAMPINES","price":400},{"town":"TAMPINES","price":410},{"town":"TAMPINES","price":420},{"town":"TAMPINES","price":432},{"town":"TAMPINES","price":444},{"town":"TAMPINES","price":456},{"town":"TAMPINES","price":468},{"town":"TAMPINES","price":482},{"town":"TAMPINES","price":496},{"town":"TAMPINES","price":512},{"town":"TAMPINES","price":528},{"town":"TAMPINES","price":545},{"town":"TAMPINES","price":569},{"town":"TAMPINES","price":590},{"town":"TAMPINES","price":610},{"town":"TAMPINES","price":630},{"town":"TAMPINES","price":650},{"town":"TAMPINES","price":670},{"town":"TAMPINES","price":690},{"town":"TAMPINES","price":710},{"town":"TAMPINES","price":730},{"town":"TAMPINES","price":750},{"town":"TAMPINES","price":770},{"town":"TAMPINES","price":791},
{"town":"TOA PAYOH","price":228},{"town":"TOA PAYOH","price":236},{"town":"TOA PAYOH","price":244},{"town":"TOA PAYOH","price":252},{"town":"TOA PAYOH","price":260},{"town":"TOA PAYOH","price":268},{"town":"TOA PAYOH","price":276},{"town":"TOA PAYOH","price":284},{"town":"TOA PAYOH","price":292},{"town":"TOA PAYOH","price":300},{"town":"TOA PAYOH","price":308},{"town":"TOA PAYOH","price":316},{"town":"TOA PAYOH","price":326},{"town":"TOA PAYOH","price":336},{"town":"TOA PAYOH","price":346},{"town":"TOA PAYOH","price":356},{"town":"TOA PAYOH","price":368},{"town":"TOA PAYOH","price":380},{"town":"TOA PAYOH","price":392},{"town":"TOA PAYOH","price":405},{"town":"TOA PAYOH","price":420},{"town":"TOA PAYOH","price":440},{"town":"TOA PAYOH","price":465},{"town":"TOA PAYOH","price":490},{"town":"TOA PAYOH","price":515},{"town":"TOA PAYOH","price":540},{"town":"TOA PAYOH","price":565},{"town":"TOA PAYOH","price":590},{"town":"TOA PAYOH","price":610},{"town":"TOA PAYOH","price":632},{"town":"TOA PAYOH","price":640},{"town":"TOA PAYOH","price":650},{"town":"TOA PAYOH","price":660},{"town":"TOA PAYOH","price":670},{"town":"TOA PAYOH","price":680},{"town":"TOA PAYOH","price":695},{"town":"TOA PAYOH","price":710},{"town":"TOA PAYOH","price":725},{"town":"TOA PAYOH","price":740},{"town":"TOA PAYOH","price":760},{"town":"TOA PAYOH","price":780},{"town":"TOA PAYOH","price":800},{"town":"TOA PAYOH","price":820},{"town":"TOA PAYOH","price":845},{"town":"TOA PAYOH","price":870},{"town":"TOA PAYOH","price":954},
{"town":"WOODLANDS","price":221},{"town":"WOODLANDS","price":228},{"town":"WOODLANDS","price":238},{"town":"WOODLANDS","price":248},{"town":"WOODLANDS","price":258},{"town":"WOODLANDS","price":268},{"town":"WOODLANDS","price":278},{"town":"WOODLANDS","price":288},{"town":"WOODLANDS","price":298},{"town":"WOODLANDS","price":308},{"town":"WOODLANDS","price":318},{"town":"WOODLANDS","price":328},{"town":"WOODLANDS","price":338},{"town":"WOODLANDS","price":348},{"town":"WOODLANDS","price":358},{"town":"WOODLANDS","price":368},{"town":"WOODLANDS","price":378},{"town":"WOODLANDS","price":390},{"town":"WOODLANDS","price":402},{"town":"WOODLANDS","price":414},{"town":"WOODLANDS","price":426},{"town":"WOODLANDS","price":440},{"town":"WOODLANDS","price":455},{"town":"WOODLANDS","price":470},{"town":"WOODLANDS","price":485},{"town":"WOODLANDS","price":500},{"town":"WOODLANDS","price":515},{"town":"WOODLANDS","price":530},{"town":"WOODLANDS","price":545},{"town":"WOODLANDS","price":560},{"town":"WOODLANDS","price":575},{"town":"WOODLANDS","price":590},{"town":"WOODLANDS","price":605},{"town":"WOODLANDS","price":620},{"town":"WOODLANDS","price":640},{"town":"WOODLANDS","price":660},{"town":"WOODLANDS","price":680},{"town":"WOODLANDS","price":699},{"town":"WOODLANDS","price":709},{"town":"WOODLANDS","price":720},{"town":"WOODLANDS","price":724},{"town":"WOODLANDS","price":737},{"town":"WOODLANDS","price":750},{"town":"WOODLANDS","price":755},{"town":"WOODLANDS","price":759},{"town":"WOODLANDS","price":770},{"town":"WOODLANDS","price":785},{"town":"WOODLANDS","price":798},{"town":"WOODLANDS","price":845},{"town":"WOODLANDS","price":850},
{"town":"YISHUN","price":255},{"town":"YISHUN","price":262},{"town":"YISHUN","price":270},{"town":"YISHUN","price":278},{"town":"YISHUN","price":286},{"town":"YISHUN","price":294},{"town":"YISHUN","price":302},{"town":"YISHUN","price":310},{"town":"YISHUN","price":318},{"town":"YISHUN","price":326},{"town":"YISHUN","price":334},{"town":"YISHUN","price":342},{"town":"YISHUN","price":350},{"town":"YISHUN","price":360},{"town":"YISHUN","price":370},{"town":"YISHUN","price":380},{"town":"YISHUN","price":392},{"town":"YISHUN","price":404},{"town":"YISHUN","price":416},{"town":"YISHUN","price":428},{"town":"YISHUN","price":440},{"town":"YISHUN","price":452},{"town":"YISHUN","price":469},{"town":"YISHUN","price":485},{"town":"YISHUN","price":500},{"town":"YISHUN","price":515},{"town":"YISHUN","price":530},{"town":"YISHUN","price":545},{"town":"YISHUN","price":560},{"town":"YISHUN","price":580},{"town":"YISHUN","price":600},{"town":"YISHUN","price":620},{"town":"YISHUN","price":645},{"town":"YISHUN","price":670},{"town":"YISHUN","price":694},{"town":"YISHUN","price":726},{"town":"YISHUN","price":734},{"town":"YISHUN","price":744},{"town":"YISHUN","price":759},{"town":"YISHUN","price":810}
]
},
"encoding": {
"y": {"field": "town", "type": "nominal", "title": "Town",
"scale": {"domain": ["ANG MO KIO","BEDOK","BISHAN","BUKIT BATOK","BUKIT MERAH","BUKIT PANJANG","BUKIT TIMAH","CENTRAL AREA","CHOA CHU KANG","CLEMENTI","GEYLANG","HOUGANG","JURONG EAST","JURONG WEST","KALLANG/WHAMPOA","MARINE PARADE","PASIR RIS","PUNGGOL","QUEENSTOWN","SEMBAWANG","SENGKANG","SERANGOON","TAMPINES","TOA PAYOH","WOODLANDS","YISHUN"], "paddingInner": 0, "paddingOuter": 0},
"axis": {"ticks": false, "domain": false, "grid": false, "labelFont": "Liberation Sans", "labelFontSize": 11, "labelFontWeight": "bold", "labelColor": "#444444", "labelPadding": 6, "titleAngle": 0, "titleAlign": "right", "titleBaseline": "bottom", "titleX": -6, "titleY": -2, "titleFont": "Liberation Sans", "titleFontSize": 11, "titleFontWeight": "normal", "titleColor": "#555555"}}
},
"resolve": {"axis": {"x": "independent"}},
"layer": [
{"data": {"name": "dots"},
 "mark": {"type": "point", "shape": "cross", "filled": true, "size": 14, "color": "#4877a0", "opacity": 0.75},
 "encoding": {"x": {"field": "price", "type": "quantitative", "title": "Resale Price", "scale": {"domain": [151, 1131], "nice": false, "zero": false},
  "axis": {"values": [200,300,400,500,600,700,800,900,1000,1100], "labelExpr": "datum.value + 'K'", "grid": false, "domain": false, "tickColor": "#d6d6d6", "tickSize": 4, "labelFont": "Liberation Sans", "labelFontSize": 11, "labelColor": "#555555", "labelPadding": 3, "titleFont": "Liberation Sans", "titleFontSize": 11, "titleFontWeight": "normal", "titleColor": "#555555", "titlePadding": 4}}}},
{"data": {"name": "stats"},
 "mark": {"type": "bar", "size": 9, "color": "#b3b3b5", "opacity": 0.8},
 "encoding": {"x": {"field": "q1", "type": "quantitative", "scale": {"domain": [151, 1131], "nice": false, "zero": false}, "axis": null}, "x2": {"field": "median"}}},
{"data": {"name": "stats"},
 "mark": {"type": "bar", "size": 9, "color": "#dcdde0", "opacity": 0.8},
 "encoding": {"x": {"field": "median", "type": "quantitative", "scale": {"domain": [151, 1131], "nice": false, "zero": false}, "axis": null}, "x2": {"field": "q3"}}},
{"data": {"name": "stats"},
 "mark": {"type": "rule", "color": "#555555", "strokeWidth": 1.4},
 "encoding": {"x": {"field": "low", "type": "quantitative", "scale": {"domain": [151, 1131], "nice": false, "zero": false}, "axis": null}, "x2": {"field": "q1"}}},
{"data": {"name": "stats"},
 "mark": {"type": "rule", "color": "#555555", "strokeWidth": 1.4},
 "encoding": {"x": {"field": "q3", "type": "quantitative", "scale": {"domain": [151, 1131], "nice": false, "zero": false}, "axis": null}, "x2": {"field": "high"}}},
{"data": {"name": "stats"},
 "mark": {"type": "tick", "color": "#666666", "thickness": 1, "size": 9, "opacity": 1},
 "encoding": {"x": {"field": "q1", "type": "quantitative", "scale": {"domain": [151, 1131], "nice": false, "zero": false}, "axis": null}}},
{"data": {"name": "stats"},
 "mark": {"type": "tick", "color": "#666666", "thickness": 1, "size": 9, "opacity": 1},
 "encoding": {"x": {"field": "q3", "type": "quantitative", "scale": {"domain": [151, 1131], "nice": false, "zero": false}, "axis": null}}},
{"data": {"name": "stats"},
 "mark": {"type": "tick", "color": "#555555", "thickness": 2, "size": 9, "opacity": 1},
 "encoding": {"x": {"field": "low", "type": "quantitative", "scale": {"domain": [151, 1131], "nice": false, "zero": false}, "axis": null}}},
{"data": {"name": "stats"},
 "mark": {"type": "tick", "color": "#555555", "thickness": 2, "size": 9, "opacity": 1},
 "encoding": {"x": {"field": "high", "type": "quantitative", "title": "Resale Price for each Town. The data is filtered on Year, which keeps 2015.", "scale": {"domain": [151, 1131], "nice": false, "zero": false},
  "axis": {"orient": "bottom", "labels": false, "ticks": false, "domain": false, "grid": false, "titleX": -141, "titleY": 52, "titleAlign": "left", "titleBaseline": "middle", "titleAngle": 0, "titleFont": "Liberation Sans", "titleFontSize": 12, "titleFontWeight": "normal", "titleColor": "#333333"}}}}
]
}
